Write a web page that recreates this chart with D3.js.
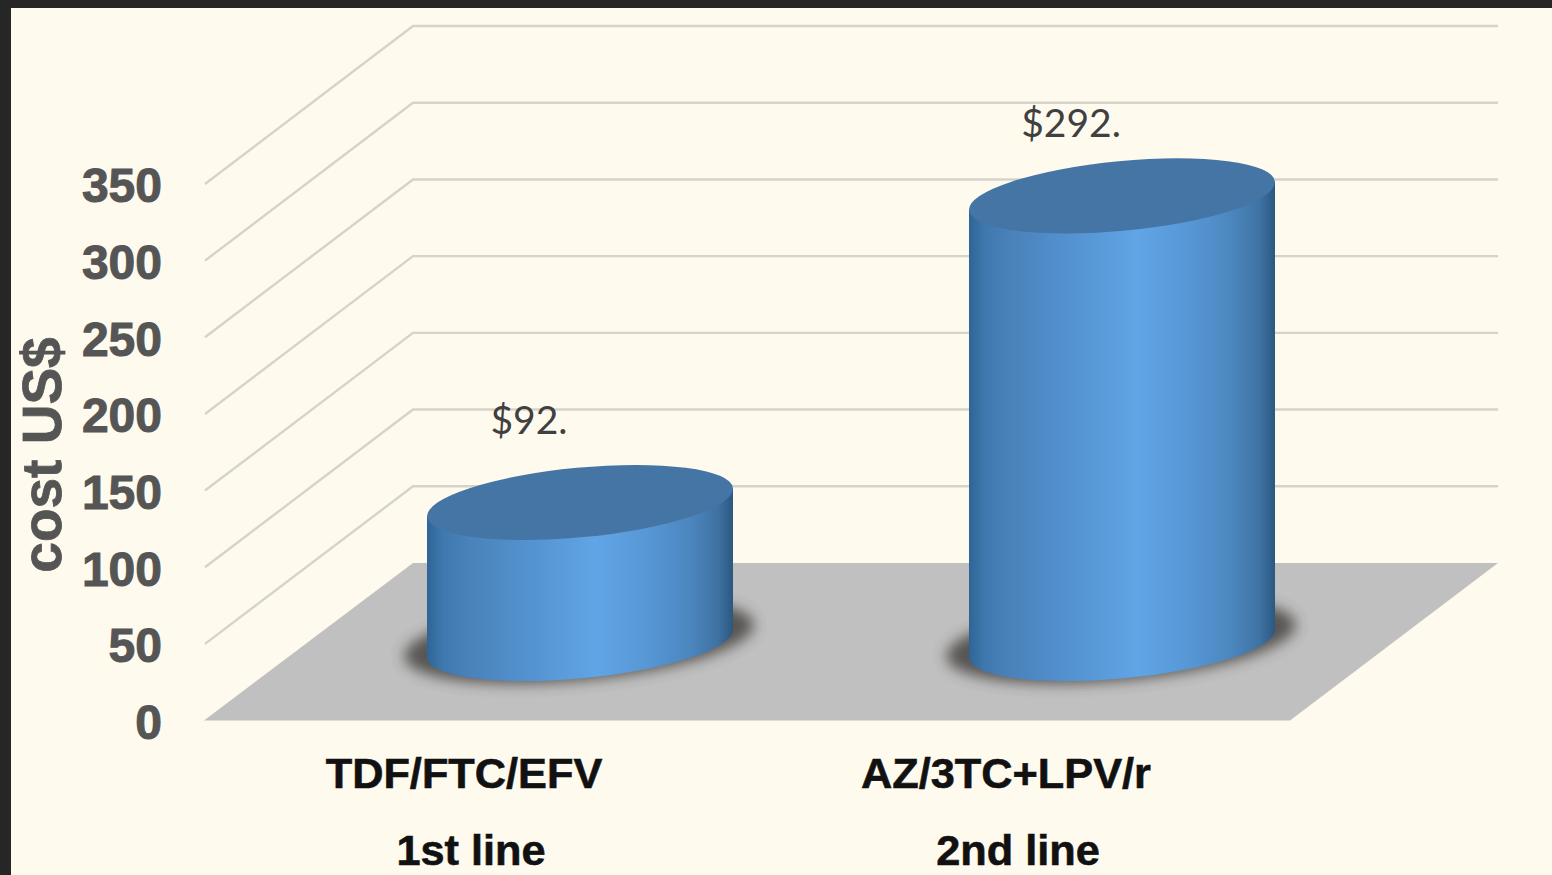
<!DOCTYPE html>
<html><head><meta charset="utf-8">
<script src="https://cdn.jsdelivr.net/npm/d3@7/dist/d3.min.js"></script>
<style>html,body{margin:0;padding:0;background:#262626;overflow:hidden}svg{display:block}</style>
</head><body>
<script>
const categories = ["TDF/FTC/EFV", "AZ/3TC+LPV/r"];
const lineNames = ["1st line", "2nd line"];
const values = [92, 292];
const valueLabels = ["$92.", "$292."];
const yTicks = [0, 50, 100, 150, 200, 250, 300, 350];
const axisTitle = "cost US$";

const W = 1552, H = 875;
const svg = d3.select("body").append("svg").attr("width", W).attr("height", H);
const defs = svg.append("defs");

svg.append("rect").attr("width", W).attr("height", H).attr("fill", "#262626");
svg.append("rect").attr("x", 11).attr("y", 8).attr("width", W - 11).attr("height", H - 8).attr("fill", "#fffaee");

// Scales: front edge and back wall of the 3D box
const yFront = d3.scaleLinear().domain([0, 350]).range([720.5, 184]);
const yBack = d3.scaleLinear().domain([0, 350]).range([563, 26]);
const xCenter = d3.scalePoint().domain(categories).range([580, 1122]);
const frontX = 204, backX = 413, backRight = 1498, frontRight = 1290;

// Floor
svg.append("path")
  .attr("d", `M${frontX},${yFront(0)}L${backX},${yBack(0)}L${backRight},${yBack(0)}L${frontRight},${yFront(0)}Z`)
  .attr("fill", "#c0c0c0");

// Gridlines
svg.append("g").selectAll("path").data(yTicks.filter(d => d > 0)).join("path")
  .attr("d", d => `M${frontX + 1},${yFront(d)}L${backX},${yBack(d)}L${backRight},${yBack(d)}`)
  .attr("fill", "none").attr("stroke", "#d6d3cb").attr("stroke-width", 2.4);

// Axis labels
const axis = svg.append("g").attr("transform", "translate(170,2.5)")
  .call(d3.axisLeft(yFront).tickValues(yTicks).tickSize(0).tickPadding(8));
axis.select(".domain").remove();
axis.selectAll("text")
  .attr("font-family", "'Liberation Sans', Arial, sans-serif")
  .attr("font-weight", 700).attr("font-size", 48)
  .attr("fill", "#555555").attr("stroke", "#555555").attr("stroke-width", 1);

svg.append("text")
  .attr("transform", "translate(61,455) rotate(-90)")
  .attr("text-anchor", "middle")
  .attr("font-family", "'Liberation Sans', Arial, sans-serif")
  .attr("font-weight", 700).attr("font-size", 55)
  .attr("fill", "#555555").attr("stroke", "#555555").attr("stroke-width", 0.8)
  .text(axisTitle);

// Gradient for cylinder side
const grad = defs.append("linearGradient").attr("id", "side").attr("x1", 0).attr("x2", 1).attr("y1", 0).attr("y2", 0);
[[0, "#2f6496"], [0.05, "#3f78ae"], [0.14, "#4a82ba"], [0.32, "#5391cf"], [0.55, "#60a5e5"],
 [0.72, "#5797d6"], [0.86, "#4c86be"], [0.95, "#3f72a3"], [1, "#2a5880"]]
  .forEach(([o, c]) => grad.append("stop").attr("offset", o).attr("stop-color", c));
defs.append("filter").attr("id", "blur").attr("x", "-20%").attr("y", "-40%").attr("width", "140%").attr("height", "180%")
  .append("feGaussianBlur").attr("stdDeviation", 7);

// Cylinders
const rx = 153.6, ry = 34.8, tilt = -5.4, baseY = 643.5;
const hw = 153, sideDy = 14;
const unit = (yFront(0) - yFront(1));
const bars = svg.append("g").selectAll("g").data(values).join("g");

bars.append("ellipse")
  .attr("cx", (d, i) => xCenter(categories[i]) - 1)
  .attr("cy", baseY - 3)
  .attr("rx", rx + 22).attr("ry", ry + 5)
  .attr("transform", (d, i) => `rotate(${tilt} ${xCenter(categories[i]) - 1} ${baseY - 3})`)
  .attr("fill", "#3d3a38").attr("opacity", 0.8).attr("filter", "url(#blur)");

bars.append("path")
  .attr("d", (d, i) => {
    const c = xCenter(categories[i]), top = baseY - d * unit;
    return `M${c - hw},${top + sideDy}L${c - hw},${baseY + sideDy}` +
      `A${rx},${ry} ${tilt} 0 0 ${c + hw},${baseY - sideDy}` +
      `L${c + hw},${top - sideDy}Z`;
  })
  .attr("fill", "url(#side)");

bars.append("ellipse")
  .attr("cx", (d, i) => xCenter(categories[i]))
  .attr("cy", d => baseY - d * unit)
  .attr("rx", rx).attr("ry", ry)
  .attr("transform", (d, i) => `rotate(${tilt} ${xCenter(categories[i])} ${baseY - d * unit})`)
  .attr("fill", "#4475a4");

// Value labels
bars.append("text")
  .attr("x", (d, i) => xCenter(categories[i]) - 51)
  .attr("y", (d, i) => baseY - d * unit - (i === 0 ? 68 : 59))
  .attr("text-anchor", "middle")
  .attr("font-family", "Lato, 'Open Sans', sans-serif")
  .attr("font-size", 39).attr("fill", "#404040")
  .text((d, i) => valueLabels[i]);

// Category labels
const catText = svg.append("g")
  .attr("font-family", "'Liberation Sans', Arial, sans-serif")
  .attr("font-weight", 700).attr("font-size", 43.3).attr("fill", "#111111")
  .attr("stroke", "#111111").attr("stroke-width", 0.6).attr("text-anchor", "middle");
catText.selectAll(".cat").data(categories).join("text").attr("class", "cat")
  .attr("x", d => xCenter(d) - 116).attr("y", 788).text(d => d);
catText.selectAll(".line").data(lineNames).join("text").attr("class", "line")
  .attr("x", (d, i) => xCenter(categories[i]) - (i === 0 ? 109 : 104)).attr("y", 865).text(d => d);
</script>
</body></html>
